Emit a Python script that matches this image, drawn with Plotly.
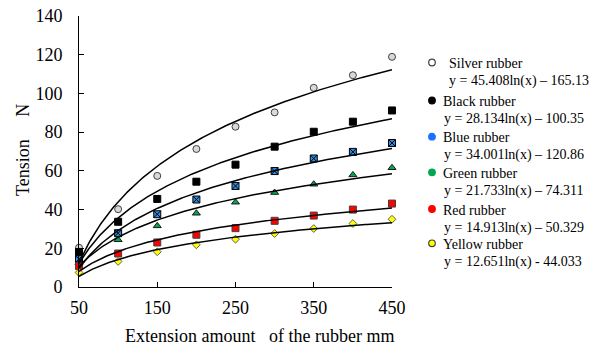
import numpy as np
import plotly.graph_objects as go

# ---- data ----
extension = [50, 100, 150, 200, 250, 300, 350, 400, 450]
silver = [20.3, 40.2, 57.4, 71.3, 82.8, 90.2, 102.9, 109.4, 118.9]
black = [18.1, 33.7, 45.5, 54.4, 63.2, 72.5, 80.2, 85.4, 91.2]
blue = [14.4, 27.8, 37.6, 45.2, 52.2, 59.9, 66.4, 69.8, 74.4]
green = [12.5, 24.4, 31.6, 38.1, 43.8, 48.8, 53.1, 57.9, 61.6]
red = [10.8, 17.3, 23.0, 27.0, 30.4, 34.2, 36.9, 40.0, 43.1]
yellow = [7.5, 13.2, 18.2, 21.8, 24.7, 27.6, 30.2, 32.8, 35.0]

series_names = ["Silver rubber", "Black rubber", "Blue rubber",
                "Green rubber", "Red rubber", "Yellow rubber"]
equation_labels = ["y = 45.408ln(x) \u2013 165.13", "y = 28.134ln(x) \u2013 100.35",
                   "y = 34.001ln(x) \u2013 120.86", "y = 21.733ln(x) \u2013 74.311",
                   "y = 14.913ln(x) \u2013 50.329", "y = 12.651ln(x) - 44.033"]
# logarithmic trendline coefficients of the curves drawn (y = a ln(x) + b)
trend_a = [45.408, 34.001, 28.134, 21.733, 14.913, 12.651]
trend_b = [-165.13, -120.86, -100.35, -74.311, -50.329, -44.033]

x_ticks = [50, 150, 250, 350, 450]
y_ticks = [0, 20, 40, 60, 80, 100, 120, 140]

# ---- styles ----
W, H = 597, 347
L, R, T, B = 79, 392, 16, 287
FONT = "Liberation Serif, Times New Roman, serif"
values = [silver, black, blue, green, red, yellow]
symbols = ["circle", "square", "square-x", "triangle-up", "square", "diamond"]
fills = ["#d9d9d9", "#000000", "#2f8de4", "#00a650", "#ff0000", "#ffff00"]
edges = ["#404040", "#000000", "#000000", "#1a1a1a", "#404040", "#606060"]
sizes = [7, 7, 7, 7, 7, 6]
legend_fills = ["#ffffff", "#000000", "#1f6fff", "#00a650", "#ff0000", "#ffff00"]
legend_edges = ["#404040", "#000000", "#1f6fff", "#00a650", "#ff0000", "#404040"]
legend_y_px = [63.5, 101.5, 137.7, 173.3, 210, 244.3]

fig = go.Figure()

for i, v in enumerate(values):
    fig.add_trace(go.Scatter(
        x=extension, y=v, mode="markers", showlegend=False, cliponaxis=False,
        hoverinfo="skip",
        marker=dict(symbol=symbols[i], size=sizes[i], color=fills[i],
                    line=dict(color=edges[i], width=1))))

xs = np.linspace(extension[0], extension[-1], 200)
for a, b in zip(trend_a, trend_b):
    fig.add_trace(go.Scatter(x=xs, y=a * np.log(xs) + b, mode="lines", hoverinfo="skip",
                             showlegend=False, line=dict(color="black", width=1.5)))


def px_x(p):
    return (p - L) / (R - L)


def px_y(p):
    return (B - p) / (B - T)


annotations = []
shapes = []
for i, name in enumerate(series_names):
    ty = legend_y_px[i]
    tx = 446.7 if i == 0 else 441.5
    annotations.append(dict(text=name, x=px_x(tx), y=px_y(ty), xref="paper", yref="paper",
                            xanchor="left", yanchor="middle", showarrow=False,
                            font=dict(family=FONT, size=14, color="black")))
    annotations.append(dict(text=equation_labels[i], x=px_x(tx), y=px_y(ty + 17.5),
                            xref="paper", yref="paper", xanchor="left", yanchor="middle",
                            showarrow=False, font=dict(family=FONT, size=14, color="black")))
    shapes.append(dict(type="circle", xref="paper", yref="paper",
                       xsizemode="pixel", ysizemode="pixel",
                       xanchor=px_x(432), yanchor=px_y(ty - 1),
                       x0=-3.3, x1=3.3, y0=-3.3, y1=3.3,
                       fillcolor=legend_fills[i], line=dict(color=legend_edges[i], width=1.2)))

annotations.append(dict(text="Extension amount\u00a0\u00a0\u00a0of the rubber mm",
                        x=px_x(259), y=px_y(336), xref="paper", yref="paper",
                        xanchor="center", yanchor="middle", showarrow=False,
                        font=dict(family=FONT, size=18, color="black")))
annotations.append(dict(text="Tension\u00a0\u00a0\u00a0\u00a0\u00a0N",
                        x=px_x(23), y=px_y(150), xref="paper", yref="paper",
                        xanchor="center", yanchor="middle", textangle=-90, showarrow=False,
                        font=dict(family=FONT, size=18, color="black")))

fig.update_layout(
    width=W, height=H,
    margin=dict(l=L, r=W - R, t=T, b=H - B, autoexpand=False),
    paper_bgcolor="white", plot_bgcolor="white",
    font=dict(family=FONT, size=18, color="black"),
    annotations=annotations, shapes=shapes,
    xaxis=dict(range=[50, 450], tickvals=x_ticks, ticks="inside", ticklen=5,
               tickcolor="black", showline=True, linecolor="black", linewidth=1,
               showgrid=False, zeroline=False, ticklabelstandoff=4,
               tickfont=dict(family=FONT, size=18, color="black")),
    yaxis=dict(range=[0, 140], tickvals=y_ticks, ticks="inside", ticklen=5,
               tickcolor="black", showline=True, linecolor="black", linewidth=1,
               showgrid=False, zeroline=False, ticklabelstandoff=12,
               tickfont=dict(family=FONT, size=18, color="black")),
)

fig.write_html("out.html", config={"displayModeBar": False},
               post_script="document.body.style.margin='0';")
